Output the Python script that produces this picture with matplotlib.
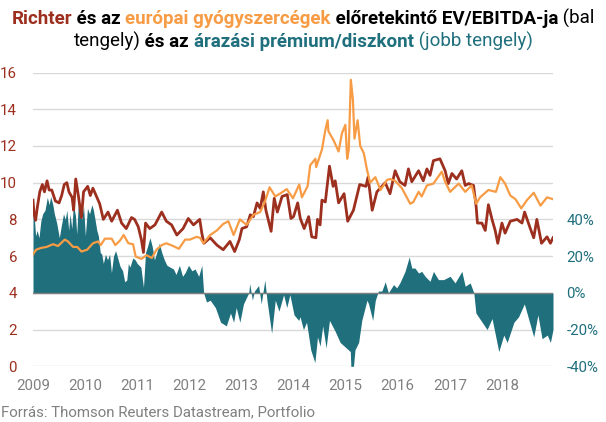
import matplotlib
matplotlib.use('Agg')
import matplotlib.pyplot as plt

plt.rcParams['font.family'] = ['Roboto', 'DejaVu Sans']

RED = '#9c2f1e'
ORANGE = '#f79c45'
TEAL = '#1f6f7d'
GREY = '#808080'
GRID = '#d9d9d9'

richter_t = [2009.0, 2009.02, 2009.05, 2009.08, 2009.13, 2009.18, 2009.22, 2009.27, 2009.31, 2009.36,
             2009.43, 2009.5, 2009.55, 2009.6, 2009.65, 2009.69, 2009.75, 2009.78, 2009.82, 2009.87,
             2009.93, 2009.97, 2010.05, 2010.1, 2010.15, 2010.28, 2010.35, 2010.44, 2010.51, 2010.62,
             2010.7, 2010.79, 2010.89, 2010.95, 2011.02, 2011.08, 2011.12, 2011.16, 2011.24, 2011.34,
             2011.47, 2011.56, 2011.66, 2011.76, 2011.88, 2011.98, 2012.08, 2012.2, 2012.24, 2012.28,
             2012.4, 2012.53, 2012.65, 2012.78, 2012.87, 2012.96, 2013.01, 2013.1, 2013.17, 2013.23,
             2013.3, 2013.36, 2013.42, 2013.47, 2013.57, 2013.63, 2013.69, 2013.78, 2013.88, 2013.95,
             2014.0, 2014.08, 2014.13, 2014.205, 2014.29, 2014.35, 2014.43, 2014.46, 2014.51, 2014.545,
             2014.61, 2014.69, 2014.76, 2014.8, 2014.865, 2014.97, 2015.04, 2015.15, 2015.27, 2015.39,
             2015.43, 2015.51, 2015.6, 2015.76, 2015.852, 2015.95, 2016.04, 2016.14, 2016.205, 2016.27,
             2016.4, 2016.49, 2016.56, 2016.62, 2016.685, 2016.81, 2016.91, 2016.97, 2017.04, 2017.13,
             2017.23, 2017.295, 2017.36, 2017.455, 2017.505, 2017.53, 2017.615, 2017.68, 2017.74, 2017.81,
             2017.87, 2017.92, 2018.0, 2018.06, 2018.16, 2018.29, 2018.385, 2018.435, 2018.545, 2018.61,
             2018.67, 2018.76, 2018.865, 2018.93, 2018.98]
richter_v = [9.05, 8.3, 7.95, 8.6, 9.5, 9.9, 9.5, 10.1, 9.6, 9.6,
             9.0, 8.9, 9.3, 9.9, 10.0, 9.5, 9.2, 8.5, 10.2, 9.3,
             8.1, 9.5, 9.8, 9.3, 9.7, 8.85, 8.0, 8.4, 7.9, 8.5,
             7.8, 7.5, 8.1, 8.0, 7.6, 6.9, 6.2, 7.8, 7.5, 7.7,
             8.4, 7.9, 7.7, 7.15, 7.5, 8.05, 7.7, 8.0, 7.25, 6.7,
             7.0, 6.6, 6.35, 6.8, 6.25, 6.9, 7.5, 7.6, 8.25, 8.15,
             8.9, 8.6, 9.5, 8.5, 7.35, 9.15, 8.4, 9.25, 9.35, 8.05,
             8.15, 8.9, 8.05, 7.5, 8.15, 7.05, 7.0, 8.0, 7.7, 9.05,
             8.95, 10.9, 9.8, 10.1, 8.9, 9.4, 7.9, 8.5, 9.9, 9.8,
             10.3, 8.5, 9.5, 10.0, 9.4, 10.65, 10.05, 9.85, 10.75, 10.05,
             10.65, 10.1, 10.75, 10.4, 11.2, 11.3, 10.65, 9.95, 10.5, 10.2,
             10.65, 9.85, 9.95, 9.85, 8.7, 7.8, 7.8, 7.4, 8.8, 8.0,
             7.4, 6.7, 7.8, 7.25, 7.9, 8.0, 7.8, 8.4, 7.5, 7.0,
             8.0, 6.7, 7.05, 6.7, 7.0]

orange_t = [2009.0, 2009.06, 2009.16, 2009.26, 2009.385, 2009.48, 2009.61, 2009.67, 2009.77, 2009.85,
            2009.93, 2010.04, 2010.15, 2010.25, 2010.3, 2010.38, 2010.51, 2010.58, 2010.67, 2010.74,
            2010.83, 2010.92, 2010.97, 2011.08, 2011.18, 2011.28, 2011.37, 2011.47, 2011.56, 2011.69,
            2011.8, 2011.92, 2012.01, 2012.14, 2012.205, 2012.27, 2012.4, 2012.53, 2012.65, 2012.75,
            2012.85, 2012.97, 2013.1, 2013.23, 2013.36, 2013.455, 2013.54, 2013.65, 2013.74, 2013.87,
            2013.99, 2014.11, 2014.16, 2014.27, 2014.32, 2014.42, 2014.435, 2014.545, 2014.61, 2014.655,
            2014.67, 2014.77, 2014.865, 2014.93, 2014.995, 2015.03, 2015.06, 2015.1, 2015.14, 2015.17,
            2015.23, 2015.28, 2015.35, 2015.41, 2015.47, 2015.57, 2015.67, 2015.795, 2015.852, 2015.95,
            2016.08, 2016.24, 2016.3, 2016.4, 2016.46, 2016.56, 2016.685, 2016.845, 2016.91, 2017.005,
            2017.17, 2017.295, 2017.42, 2017.505, 2017.58, 2017.74, 2017.885, 2017.97, 2018.06, 2018.16,
            2018.26, 2018.37, 2018.48, 2018.61, 2018.74, 2018.865, 2018.98]
orange_v = [6.1, 6.35, 6.45, 6.5, 6.65, 6.55, 6.9, 6.8, 6.5, 6.5,
            6.25, 6.35, 6.7, 6.8, 6.6, 6.95, 6.95, 6.6, 6.85, 7.15,
            6.7, 6.65, 5.98, 5.85, 6.05, 5.9, 6.35, 6.6, 6.7, 6.55,
            6.4, 6.9, 6.9, 7.05, 7.0, 6.7, 7.15, 7.4, 7.75, 7.9,
            7.15, 8.0, 7.7, 8.25, 8.4, 9.0, 9.75, 9.25, 9.4, 9.65,
            9.15, 9.9, 9.2, 9.8, 10.95, 11.3, 10.85, 11.8, 12.85, 13.4,
            12.8, 12.3, 11.7, 12.7, 13.15, 11.3, 11.8, 15.6, 14.5, 12.4,
            13.4, 12.0, 11.6, 10.7, 10.0, 10.3, 9.6, 10.15, 10.2, 10.1,
            9.7, 8.85, 8.95, 9.5, 9.25, 9.85, 9.95, 10.6, 10.05, 9.5,
            9.95, 9.5, 9.85, 8.85, 9.2, 9.6, 9.5, 10.3, 9.95, 9.3,
            9.1, 8.6, 9.05, 9.45, 8.75, 9.2, 9.1]

premium_t = [2009.0, 2009.02, 2009.05, 2009.08, 2009.115, 2009.15, 2009.185, 2009.23, 2009.275, 2009.31,
             2009.34, 2009.38, 2009.41, 2009.455, 2009.505, 2009.54, 2009.585, 2009.62, 2009.65, 2009.685,
             2009.71, 2009.745, 2009.775, 2009.815, 2009.84, 2009.87, 2009.905, 2009.935, 2009.97, 2010.005,
             2010.045, 2010.085, 2010.13, 2010.16, 2010.19, 2010.225, 2010.255, 2010.29, 2010.32, 2010.35,
             2010.39, 2010.43, 2010.47, 2010.505, 2010.545, 2010.585, 2010.67, 2010.72, 2010.76, 2010.8,
             2010.83, 2010.86, 2010.915, 2010.96, 2011.0, 2011.07, 2011.12, 2011.16, 2011.195, 2011.245,
             2011.29, 2011.33, 2011.375, 2011.425, 2011.47, 2011.52, 2011.57, 2011.63, 2011.695, 2011.745,
             2011.81, 2011.87, 2011.92, 2011.985, 2012.05, 2012.11, 2012.18, 2012.24, 2012.275, 2012.33,
             2012.4, 2012.5, 2012.6, 2012.71, 2012.79, 2012.85, 2012.9, 2012.97, 2013.04, 2013.14,
             2013.16, 2013.21, 2013.25, 2013.33, 2013.38, 2013.45, 2013.49, 2013.58, 2013.65, 2013.72,
             2013.81, 2013.87, 2013.93, 2014.01, 2014.1, 2014.125, 2014.19, 2014.25, 2014.33, 2014.41,
             2014.46, 2014.51, 2014.56, 2014.625, 2014.69, 2014.8, 2014.895, 2015.09, 2015.1, 2015.15,
             2015.18, 2015.25, 2015.31, 2015.41, 2015.44, 2015.52, 2015.57, 2015.63, 2015.695, 2015.76,
             2015.82, 2015.92, 2015.98, 2016.04, 2016.14, 2016.22, 2016.27, 2016.33, 2016.4, 2016.46,
             2016.525, 2016.62, 2016.685, 2016.78, 2016.88, 2017.005, 2017.1, 2017.23, 2017.295, 2017.39,
             2017.46, 2017.5, 2017.62, 2017.715, 2017.81, 2017.94, 2018.035, 2018.1, 2018.23, 2018.32,
             2018.43, 2018.55, 2018.61, 2018.69, 2018.77, 2018.87, 2018.93, 2018.98]
premium_v = [43, 43, 31, 34, 30, 39, 43, 45, 52, 48,
             52.5, 48, 43, 38, 30, 36, 43, 40, 45, 34,
             43, 35, 48, 42, 32, 49, 43, 40, 47, 31,
             46, 43, 48, 45, 40, 34, 31, 22, 21, 16,
             21, 18, 21, 11, 20, 23, 14.5, 12, 6, 7,
             16, 14, 19, 18, 16, 14, 3, 22, 25, 30,
             25, 18, 22, 27, 22, 18, 15, 14, 13, 10,
             15, 9, 11, 15, 12, 13, 9, 15, 0, -5,
             -4, -8, -16, -18, -11, -16, -8, -16, -6, 0,
             5, -4, 1, 4, -6, 7, -4, -22, -4, -10,
             -1, -8, -1, -12, -15, -13, -20, -16, -31, -38,
             -24, -29, -18, -30, -15, -21, -27, -32, -40, -40,
             -31, -27, -15, -4, -6, -15, -4, 1, 1, 6,
             0, 4.5, 2.7, 5.4, 11.7, 19.5, 13.5, 13.5, 10.8, 11.7,
             9, 6.3, 11.7, 7.2, 7.2, 9, 5.4, 11.7, 3.6, 5.4,
             0, -11, -16, -20, -14, -32, -23, -27, -16, -13,
             -6, -18, -24, -12, -25, -23, -27, -20]

left_ticks = [0, 2, 4, 6, 8, 10, 12, 14, 16]
right_ticks = [-40, -20, 0, 20, 40, 60, 80, 100, 120]
right_labels = ['-40%', '-20%', '0%', '20%', '40%', '', '', '', '']
year_ticks = [2009, 2010, 2011, 2012, 2013, 2014, 2015, 2016, 2017, 2018]

title_line1 = [('Richter', RED, 'bold'), (' és az ', 'black', 'bold'),
               ('európai gyógyszercégek', ORANGE, 'bold'),
               (' előretekintő EV/EBITDA-ja', 'black', 'bold'), (' (bal', 'black', 'normal')]
title_line2 = [('tengely)', 'black', 'normal'), (' és az ', 'black', 'bold'),
               ('árazási prémium/diszkont', TEAL, 'bold'), (' (jobb tengely)', TEAL, 'normal')]


def title_row(fig, parts, y_px, size=13.5):
    # a row of differently coloured pieces, centered on the figure
    renderer = fig.canvas.get_renderer()
    texts = []
    total = 0
    for s, color, weight in parts:
        t = fig.text(0, 1 - y_px / 422, s, color=color, fontweight=weight, fontsize=size, va='baseline')
        # measure with dots so that the edge spaces are counted
        t.set_text('.' + s + '.')
        w = t.get_window_extent(renderer).width
        t.set_text('..')
        w -= t.get_window_extent(renderer).width
        t.set_text(s)
        texts.append((t, w))
        total += w
    x = (fig.bbox.width - total) / 2
    for t, w in texts:
        t.set_x(x / fig.bbox.width)
        x += w


def run():
    fig = plt.figure(figsize=(6.06, 4.22), dpi=100)
    rect = [33 / 606, 1 - 366.3 / 422, (553 - 33) / 606, (366.3 - 72.5) / 422]
    ax2 = fig.add_axes(rect)
    ax = ax2.twinx()

    # left axis drawn on the right hand twin, so the lines stay over the area
    ax.set_zorder(ax2.get_zorder() + 1)
    ax.patch.set_visible(False)

    ax2.set_xlim(2009, 2018.98)
    ax2.set_ylim(-40, 120)
    ax2.grid(axis='y', color=GRID, lw=1)
    ax2.set_axisbelow(True)
    ax2.fill_between(premium_t, premium_v, 0, color=TEAL, lw=0)
    ax2.axhline(0, color=GREY, lw=1)
    ax2.yaxis.tick_right()
    ax2.set_yticks(right_ticks)
    ax2.set_yticklabels(right_labels, color=TEAL, fontsize=10.8)
    ax2.set_xticks(year_ticks)
    ax2.set_xticklabels([str(y) for y in year_ticks], color=GREY, fontsize=10.8)
    ax2.tick_params(axis='both', length=0)
    ax2.tick_params(axis='y', pad=9.7)
    ax2.tick_params(axis='x', pad=9)

    ax.plot(richter_t, richter_v, color=RED, lw=2.0)
    ax.plot(orange_t, orange_v, color=ORANGE, lw=1.6)
    ax.set_ylim(0, 16)
    ax.yaxis.tick_left()
    ax.set_yticks(left_ticks)
    ax.set_yticklabels([str(v) for v in left_ticks], color=RED, fontsize=10.8)
    ax.tick_params(axis='y', length=0, pad=11.5)

    for a in (ax, ax2):
        for spine in a.spines.values():
            spine.set_visible(False)

    title_row(fig, title_line1, 24)
    title_row(fig, title_line2, 47)
    fig.text(1 / 606, 1 - 416 / 422, 'Forrás: Thomson Reuters Datastream, Portfolio',
             color=GREY, fontsize=10.8, va='baseline')
    fig.savefig('out.png', dpi=100)


if __name__ == '__main__':
    run()
